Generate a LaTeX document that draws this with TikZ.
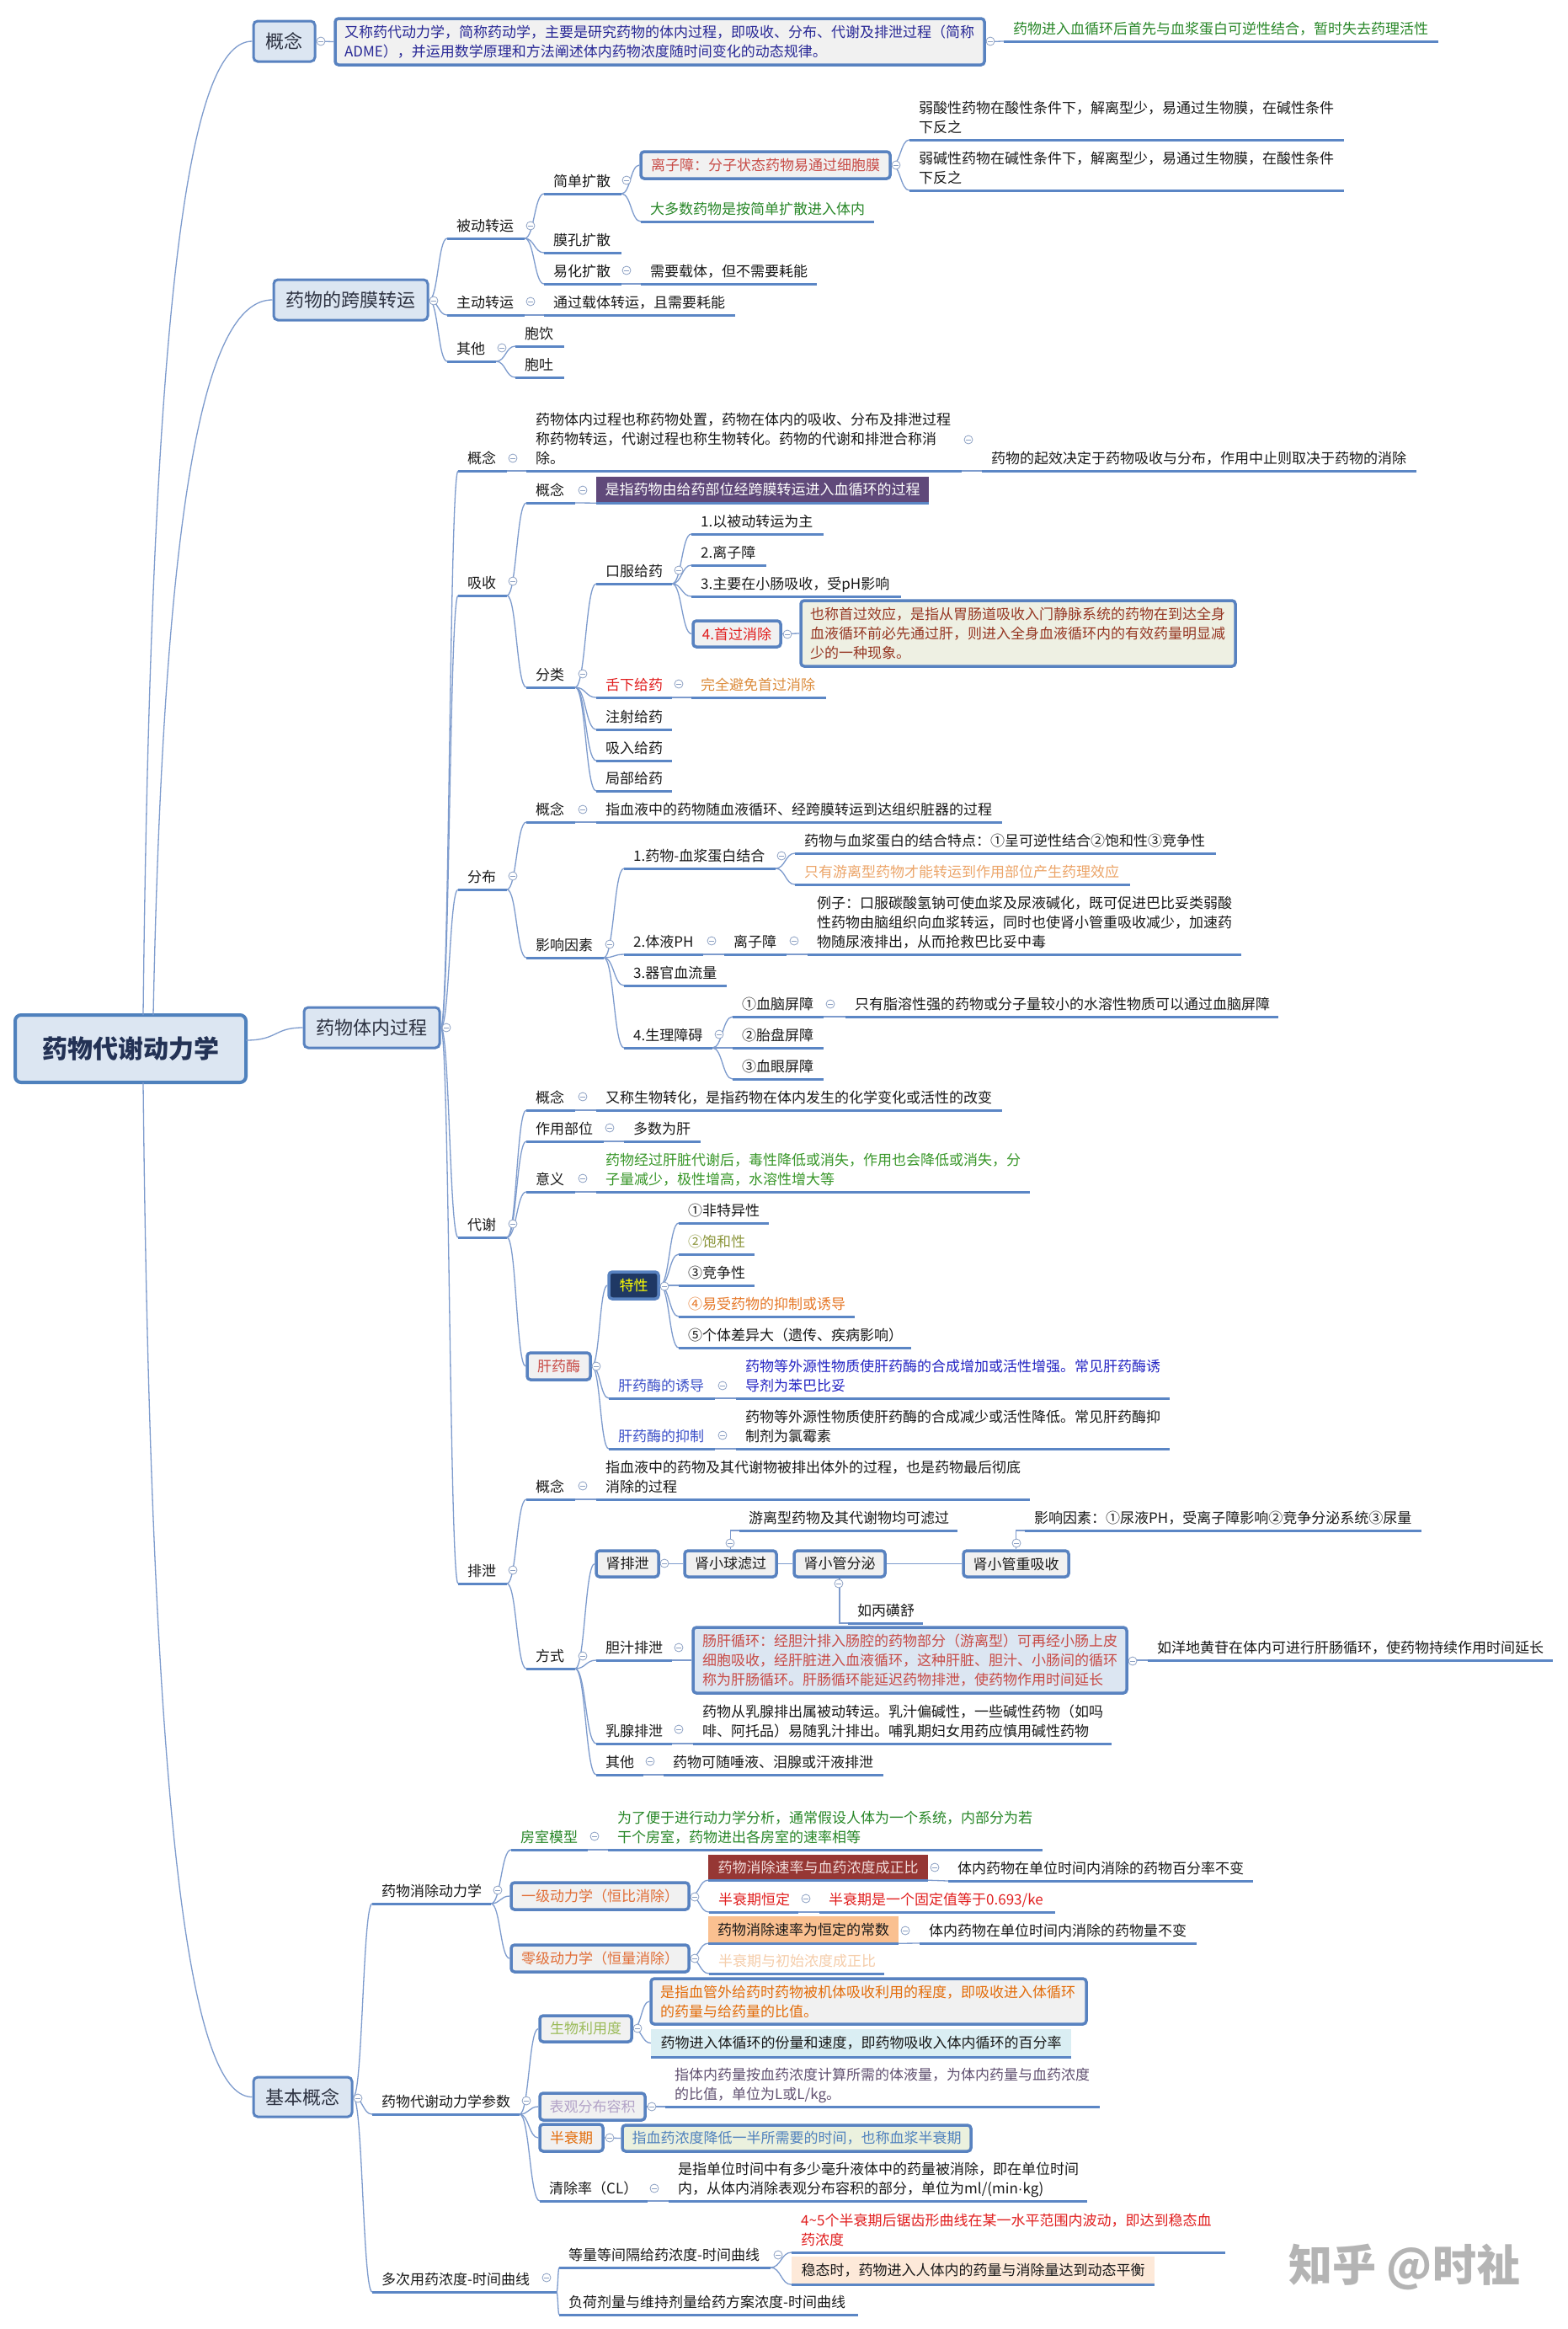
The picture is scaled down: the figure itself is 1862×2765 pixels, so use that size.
\documentclass[tikz,border=0pt]{standalone}
\usepackage{fontspec}
\setmainfont{Noto Sans CJK SC}
\newfontfamily\latf{Liberation Sans}
\usetikzlibrary{calc}
\definecolor{ulc}{RGB}{91,134,197}
\definecolor{cnc}{RGB}{125,155,205}
\definecolor{bdc}{RGB}{88,130,192}
\definecolor{l1fill}{RGB}{220,230,242}
\definecolor{gfill}{RGB}{241,241,241}
\definecolor{txt}{RGB}{25,25,25}
\definecolor{navyt}{RGB}{40,40,150}
\definecolor{grn}{RGB}{40,135,40}
\definecolor{redA}{RGB}{200,75,70}
\definecolor{redB}{RGB}{225,30,30}
\definecolor{brn}{RGB}{150,55,35}
\definecolor{sgfill}{RGB}{238,240,227}
\definecolor{orgA}{RGB}{220,140,60}
\definecolor{orgB}{RGB}{236,165,105}
\definecolor{grn2}{RGB}{55,150,40}
\definecolor{navyf}{RGB}{31,56,100}
\definecolor{yel}{RGB}{255,255,0}
\definecolor{olv}{RGB}{140,150,60}
\definecolor{orgC}{RGB}{230,120,40}
\definecolor{bluA}{RGB}{60,80,200}
\definecolor{bluB}{RGB}{35,35,195}
\definecolor{pur}{RGB}{96,73,122}
\definecolor{orgD}{RGB}{225,110,55}
\definecolor{dred}{RGB}{150,55,52}
\definecolor{pink}{RGB}{242,220,219}
\definecolor{peach}{RGB}{250,192,144}
\definecolor{lorg}{RGB}{245,205,170}
\definecolor{lgrn}{RGB}{155,187,89}
\definecolor{orgE}{RGB}{227,108,9}
\definecolor{lblu}{RGB}{218,238,243}
\definecolor{lav}{RGB}{178,162,199}
\definecolor{gpur}{RGB}{96,80,112}
\definecolor{lgfill}{RGB}{235,241,222}
\definecolor{bgt}{RGB}{79,129,189}
\definecolor{lpeach}{RGB}{253,233,217}
\definecolor{wm}{RGB}{180,180,180}
\definecolor{l1t}{RGB}{45,50,65}
\definecolor{roott}{RGB}{35,50,85}
\definecolor{rootb}{RGB}{79,129,189}
\definecolor{circc}{RGB}{140,160,195}
\newcommand\two[2]{\vbox{\hbox{#1}\hbox{#2}}}
\newcommand\three[3]{\vbox{\hbox{#1}\hbox{#2}\hbox{#3}}}
% leaf: name, x1, x2, underline y, colour, text
\newcommand\leaf[6]{%
  \coordinate (#1L) at (#2,#4);
  \coordinate (#1R) at (#3,#4);
  \draw[ul] (#1L) -- (#1R);
  \node[lt,text=#5] (#1) at ({#2+11},{#4-9}) {#6};
}
% box with centred text: style, name, x1, y1, x2, y2, text
\newcommand\bx[7]{%
  \node[#1, minimum width={#5-#3}, minimum height={#6-#4}] (#2) at ({(#3+#5)/2},{(#4+#6)/2}) {#7};
}
% box with left-aligned text
\newcommand\bxl[7]{%
  \node[#1, minimum width={#5-#3}, minimum height={#6-#4}] (#2) at ({(#3+#5)/2},{(#4+#6)/2}) {};
  \node[#1, draw=none, fill=none, minimum width=0, minimum height=0, inner sep=0, anchor=west] (#2t) at ($(#2.west)+(11,0)$) {#7};
}
\newcommand\conn[2]{\draw[cn] (#1) .. controls ($(#1)!0.5!(#1-|#2)$) and ($(#2-|#1)!0.5!(#2)$) .. (#2);}
\newcommand\cc[3]{\node[circ] (#1) at (#2,#3) {};}
\begin{document}
\begin{tikzpicture}[x=1pt,y=-1pt,
  ul/.style={draw=ulc, line width=3},
  cn/.style={draw=cnc, line width=1.3},
  lt/.style={inner sep=0, font=\fontsize{17}{23}\selectfont, anchor=base west, text=txt},
  circ/.style={circle, draw=circc, fill=white, line width=0.8, inner sep=0, minimum size=10,
    path picture={\draw[circc,line width=0.8] ([xshift=-3]path picture bounding box.center) -- ([xshift=3]path picture bounding box.center);}},
  l1/.style={draw=bdc, fill=l1fill, line width=3, rounded corners=5, inner sep=0, text=l1t, font=\fontsize{22}{26}\selectfont},
  bb/.style={draw=bdc, fill=gfill, line width=3.5, rounded corners=4, inner sep=0, text=txt, font=\fontsize{17}{23}\selectfont},
  fillb/.style={fill=#1, inner sep=0, font=\fontsize{17}{23}\selectfont},
  rootst/.style={draw=rootb, fill=l1fill, line width=4, rounded corners=7, inner sep=0, text=roott, font=\fontsize{30}{34}\selectfont\bfseries}
]
\useasboundingbox (0,0) rectangle (1862,2765);
\fill[white] (0,0) rectangle (1862,2765);

% ---------- root and level 1 ----------
\node[rootst, minimum width=274, minimum height=80] (root) at (155,1245) {药物代谢动力学};
\bx{l1}{gn}{301}{25}{374}{73}{概念}
\bx{l1}{kmzy}{325}{332}{508}{380}{药物的跨膜转运}
\bx{l1}{tnjc}{361}{1196}{522}{1244}{药物体内过程}
\bx{l1}{jbgn}{301}{2466}{418}{2513}{基本概念}
\coordinate (rA) at (170,1205);
\coordinate (rB) at (182,1205);
\coordinate (rC) at (292,1235);
\coordinate (rD) at (170,1285);
\draw[cn] (rA) .. controls (180,300) and (230,49) .. (gn.west);
\draw[cn] (rB) .. controls (195,550) and (250,356) .. (kmzy.west);
\draw[cn] (rC) .. controls (330,1235) and (325,1220) .. (tnjc.west);
\draw[cn] (rD) .. controls (180,2250) and (235,2490) .. (jbgn.west);

% ---------- 概念 ----------
\bxl{bb,text=navyt}{def}{398}{22}{1169}{77}{\two{又称药代动力学，简称药动学，主要是研究药物的体内过程，即吸收、分布、代谢及排泄过程（简称}{ADME），并运用数学原理和方法阐述体内药物浓度随时间变化的动态规律。}}
\leaf{gA}{1192}{1708}{49}{grn}{药物进入血循环后首先与血浆蛋白可逆性结合，暂时失去药理活性}
\conn{gn.east}{def.west}
\conn{def.east}{gAL}

% ---------- 药物的跨膜转运 ----------
\leaf{bd}{531}{623}{283}{txt}{被动转运}
\leaf{zd}{531}{623}{374}{txt}{主动转运}
\leaf{qt}{531}{589}{429}{txt}{其他}
\leaf{zdc}{646}{873}{374}{txt}{通过载体转运，且需要耗能}
\leaf{by}{612}{670}{411}{txt}{胞饮}
\leaf{bt}{612}{670}{448}{txt}{胞吐}
\leaf{jd}{646}{738}{230}{txt}{简单扩散}
\leaf{mk}{646}{738}{300}{txt}{膜孔扩散}
\leaf{yh}{646}{738}{337}{txt}{易化扩散}
\leaf{yhc}{761}{970}{337}{txt}{需要载体，但不需要耗能}
\bx{bb,text=redA}{lzz}{761}{180}{1057}{212}{离子障：分子状态药物易通过细胞膜}
\leaf{dds}{761}{1038}{263}{grn}{大多数药物是按简单扩散进入体内}
\leaf{rs}{1080}{1596}{166}{txt}{\two{弱酸性药物在酸性条件下，解离型少，易通过生物膜，在碱性条件}{下反之}}
\leaf{rj}{1080}{1596}{226}{txt}{\two{弱碱性药物在碱性条件下，解离型少，易通过生物膜，在酸性条件}{下反之}}
\conn{kmzy.east}{bdL} \conn{kmzy.east}{zdL} \conn{kmzy.east}{qtL}
\conn{bdR}{jdL} \conn{bdR}{mkL} \conn{bdR}{yhL}
\conn{zdR}{zdcL} \conn{qtR}{byL} \conn{qtR}{btL}
\conn{jdR}{lzz.west} \conn{jdR}{ddsL}
\conn{yhR}{yhcL}
\conn{lzz.east}{rsL} \conn{lzz.east}{rjL}

% ---------- 药物体内过程 ----------
\leaf{tgn}{544}{602}{559}{txt}{概念}
\leaf{xs}{544}{602}{707}{txt}{吸收}
\leaf{fb}{544}{602}{1056}{txt}{分布}
\leaf{dx}{544}{602}{1469}{txt}{代谢}
\leaf{px}{544}{602}{1880}{txt}{排泄}
\conn{tnjc.east}{tgnL} \conn{tnjc.east}{xsL} \conn{tnjc.east}{fbL} \conn{tnjc.east}{dxL} \conn{tnjc.east}{pxL}
\leaf{tgnc}{625}{1142}{559}{txt}{\three{药物体内过程也称药物处置，药物在体内的吸收、分布及排泄过程}{称药物转运，代谢过程也称生物转化。药物的代谢和排泄合称消}{除。}}
\leaf{tgnd}{1166}{1682}{559}{txt}{药物的起效决定于药物吸收与分布，作用中止则取决于药物的消除}
\conn{tgnR}{tgncL} \conn{tgncR}{tgndL}

% 吸收
\leaf{xsgn}{625}{683}{597}{txt}{概念}
\bx{fillb=pur,text=white}{pbox}{708}{566}{1103}{597}{是指药物由给药部位经跨膜转运进入血循环的过程}
\draw[ul] (pbox.south west) -- (pbox.south east);
\leaf{fl}{625}{683}{816}{txt}{分类}
\leaf{kf}{708}{798}{693}{txt}{口服给药}
\leaf{kA}{821}{978}{634}{txt}{1.以被动转运为主}
\leaf{kB}{821}{910}{671}{txt}{2.离子障}
\leaf{kC}{821}{1070}{708}{txt}{3.主要在小肠吸收，受pH影响}
\bx{bb,text=redB}{kD}{823}{737}{927}{768}{4.首过消除}
\bxl{bb,fill=sgfill,text=brn}{sg}{951}{713}{1467}{791}{\three{也称首过效应，是指从胃肠道吸收入门静脉系统的药物在到达全身}{血液循环前必先通过肝，则进入全身血液循环内的有效药量明显减}{少的一种现象。}}
\leaf{sx}{708}{798}{828}{redB}{舌下给药}
\leaf{sxc}{821}{981}{828}{orgA}{完全避免首过消除}
\leaf{zs}{708}{798}{866}{txt}{注射给药}
\leaf{xr}{708}{798}{903}{txt}{吸入给药}
\leaf{jb}{708}{798}{939}{txt}{局部给药}
\conn{xsR}{xsgnL} \conn{xsR}{flL}
\conn{xsgnR}{pbox.south west}
\conn{flR}{kfL} \conn{flR}{sxL} \conn{flR}{zsL} \conn{flR}{xrL} \conn{flR}{jbL}
\conn{kfR}{kAL} \conn{kfR}{kBL} \conn{kfR}{kCL} \conn{kfR}{kD.west}
\conn{kD.east}{sg.west}
\conn{sxR}{sxcL}

% 分布
\leaf{fgn}{625}{683}{976}{txt}{概念}
\leaf{fgnc}{708}{1190}{976}{txt}{指血液中的药物随血液循环、经跨膜转运到达组织脏器的过程}
\leaf{yx}{625}{717}{1137}{txt}{影响因素}
\leaf{ya}{741}{921}{1031}{txt}{1.药物-血浆蛋白结合}
\leaf{yaa}{944}{1444}{1013}{txt}{药物与血浆蛋白的结合特点：①呈可逆性结合②饱和性③竞争性}
\leaf{yab}{944}{1342}{1050}{orgB}{只有游离型药物才能转运到作用部位产生药理效应}
\leaf{yb}{741}{835}{1133}{txt}{2.体液PH}
\leaf{yba}{860}{934}{1133}{txt}{离子障}
\leaf{ybb}{959}{1474}{1133}{txt}{\three{例子：口服碳酸氢钠可使血浆及尿液碱化，既可促进巴比妥类弱酸}{性药物由脑组织向血浆转运，同时也使肾小管重吸收减少，加速药}{物随尿液排出，从而抢救巴比妥中毒}}
\leaf{yc}{741}{863}{1170}{txt}{3.器官血流量}
\leaf{ydd}{741}{846}{1244}{txt}{4.生理障碍}
\leaf{pa}{870}{978}{1207}{txt}{①血脑屏障}
\leaf{paa}{1004}{1518}{1207}{txt}{只有脂溶性强的药物或分子量较小的水溶性物质可以通过血脑屏障}
\leaf{pb}{870}{978}{1244}{txt}{②胎盘屏障}
\leaf{pc}{870}{978}{1281}{txt}{③血眼屏障}
\conn{fbR}{fgnL} \conn{fbR}{yxL} \conn{fgnR}{fgncL}
\conn{yxR}{yaL} \conn{yxR}{ybL} \conn{yxR}{ycL} \conn{yxR}{yddL}
\conn{yaR}{yaaL} \conn{yaR}{yabL}
\conn{ybR}{ybaL} \conn{ybaR}{ybbL}
\conn{yddR}{paL} \conn{yddR}{pbL} \conn{yddR}{pcL}
\conn{paR}{paaL}

% 代谢
\leaf{dgn}{625}{683}{1318}{txt}{概念}
\leaf{dgnc}{708}{1190}{1318}{txt}{又称生物转化，是指药物在体内发生的化学变化或活性的改变}
\leaf{zb}{625}{717}{1355}{txt}{作用部位}
\leaf{zbc}{741}{832}{1355}{txt}{多数为肝}
\leaf{yy}{625}{683}{1415}{txt}{意义}
\leaf{yyc}{708}{1223}{1415}{grn2}{\two{药物经过肝脏代谢后，毒性降低或消失，作用也会降低或消失，分}{子量减少，极性增高，水溶性增大等}}
\bx{bb,text=redA}{gym}{626}{1606}{701}{1638}{肝药酶}
\bx{bb,fill=navyf,text=yel}{tx}{723}{1510}{782}{1542}{特性}
\leaf{ta}{806}{913}{1452}{txt}{①非特异性}
\leaf{tb}{806}{896}{1489}{olv}{②饱和性}
\leaf{tc}{806}{896}{1526}{txt}{③竞争性}
\leaf{td}{806}{1015}{1563}{orgC}{④易受药物的抑制或诱导}
\leaf{te}{806}{1082}{1600}{txt}{⑤个体差异大（遗传、疾病影响）}
\leaf{yd}{723}{849}{1660}{bluA}{肝药酶的诱导}
\leaf{ydc}{874}{1389}{1660}{bluB}{\two{药物等外源性物质使肝药酶的合成增加或活性增强。常见肝药酶诱}{导剂为苯巴比妥}}
\leaf{yz}{723}{849}{1720}{bluA}{肝药酶的抑制}
\leaf{yzc}{874}{1389}{1720}{txt}{\two{药物等外源性物质使肝药酶的合成减少或活性降低。常见肝药酶抑}{制剂为氯霉素}}
\conn{dxR}{dgnL} \conn{dxR}{zbL} \conn{dxR}{yyL} \conn{dxR}{gym.west}
\conn{dgnR}{dgncL} \conn{zbR}{zbcL} \conn{yyR}{yycL}
\conn{gym.east}{tx.west} \conn{gym.east}{ydL} \conn{gym.east}{yzL}
\conn{tx.east}{taL} \conn{tx.east}{tbL} \conn{tx.east}{tcL} \conn{tx.east}{tdL} \conn{tx.east}{teL}
\conn{ydR}{ydcL} \conn{yzR}{yzcL}

% 排泄
\leaf{pgn}{625}{683}{1780}{txt}{概念}
\leaf{pgnc}{708}{1223}{1780}{txt}{\two{指血液中的药物及其代谢物被排出体外的过程，也是药物最后彻底}{消除的过程}}
\leaf{fs}{625}{683}{1981}{txt}{方式}
\bx{bb}{spx}{708}{1841}{782}{1872}{肾排泄}
\bx{bb}{sqg}{813}{1841}{922}{1872}{肾小球滤过}
\bx{bb}{sgf}{943}{1841}{1051}{1872}{肾小管分泌}
\bx{bb}{scx}{1144}{1841}{1269}{1872}{肾小管重吸收}
\leaf{sqgc}{878}{1137}{1817}{txt}{游离型药物及其代谢物均可滤过}
\leaf{scxc}{1217}{1688}{1817}{txt}{影响因素：①尿液PH，受离子障影响②竞争分泌系统③尿量}
\leaf{sgfc}{1007}{1096}{1927}{txt}{如丙磺舒}
\leaf{dz}{708}{798}{1971}{txt}{胆汁排泄}
\bxl{bb,fill=l1fill,text=redA}{gc}{823}{1932}{1338}{2010}{\three{肠肝循环：经胆汁排入肠腔的药物部分（游离型）可再经小肠上皮}{细胞吸收，经肝脏进入血液循环，这种肝脏、胆汁、小肠间的循环}{称为肝肠循环。肝肠循环能延迟药物排泄，使药物作用时间延长}}
\leaf{gcc}{1363}{1844}{1971}{txt}{如洋地黄苷在体内可进行肝肠循环，使药物持续作用时间延长}
\leaf{rx}{708}{798}{2070}{txt}{乳腺排泄}
\leaf{rxc}{823}{1320}{2070}{txt}{\two{药物从乳腺排出属被动转运。乳汁偏碱性，一些碱性药物（如吗}{啡、阿托品）易随乳汁排出。哺乳期妇女用药应慎用碱性药物}}
\leaf{qtb}{708}{764}{2107}{txt}{其他}
\leaf{qtbc}{788}{1049}{2107}{txt}{药物可随唾液、泪腺或汗液排泄}
\conn{pxR}{pgnL} \conn{pxR}{fsL} \conn{pgnR}{pgncL}
\conn{fsR}{spx.west} \conn{fsR}{dzL} \conn{fsR}{rxL} \conn{fsR}{qtbL}
\draw[cn] (spx.east) -- (sqg.west);
\draw[cn] (sqg.east) -- (sgf.west);
\draw[cn] (sgf.east) -- (scx.west);
\draw[cn] (sqg.north) |- (sqgcL);
\draw[cn] (scx.north) |- (scxcL);
\draw[cn] (sgf.south) |- (sgfcL);
\conn{dzR}{gc.west} \conn{gc.east}{gccL}
\conn{rxR}{rxcL} \conn{qtbR}{qtbcL}

% ---------- 基本概念 ----------
\leaf{xc}{442}{583}{2260}{txt}{药物消除动力学}
\leaf{fsm}{607}{698}{2196}{grn}{房室模型}
\leaf{fsmc}{722}{1238}{2196}{grn}{\two{为了便于进行动力学分析，通常假设人体为一个系统，内部分为若}{干个房室，药物进出各房室的速率相等}}
\bx{bb,text=orgD}{yj}{607}{2235}{818}{2267}{一级动力学（恒比消除）}
\bx{fillb=dred,text=pink}{drb}{841}{2202}{1102}{2232}{药物消除速率与血药浓度成正比}
\draw[ul] (drb.south west) -- (drb.south east);
\leaf{drc}{1126}{1488}{2233}{txt}{体内药物在单位时间内消除的药物百分率不变}
\leaf{bq}{842}{948}{2270}{redB}{半衰期恒定}
\leaf{bqc}{973}{1253}{2270}{redB}{半衰期是一个固定值等于0.693/ke}
\bx{bb,text=orgD}{lj}{607}{2309}{818}{2341}{零级动力学（恒量消除）}
\bx{fillb=peach,text=txt}{pcb}{841}{2275}{1067}{2307}{药物消除速率为恒定的常数}
\draw[ul] (pcb.south west) -- (pcb.south east);
\leaf{pcc}{1092}{1421}{2307}{txt}{体内药物在单位时间内消除的药物量不变}
\leaf{bqb}{842}{1050}{2343}{lorg}{半衰期与初始浓度成正比}
\leaf{cs}{442}{617}{2510}{txt}{药物代谢动力学参数}
\bx{bb,text=lgrn}{swl}{641}{2393}{750}{2424}{生物利用度}
\bxl{bb,text=orgE}{swa}{773}{2349}{1290}{2403}{\two{是指血管外给药时药物被机体吸收利用的程度，即吸收进入体循环}{的药量与给药量的比值。}}
\bx{fillb=lblu,text=txt}{swb}{773}{2409}{1272}{2442}{药物进入体循环的份量和速度，即药物吸收入体内循环的百分率}
\draw[ul] (swb.south west) -- (swb.south east);
\bx{bb,text=lav}{bg}{641}{2485}{766}{2517}{表观分布容积}
\leaf{bgc}{790}{1306}{2501}{gpur}{\two{指体内药量按血药浓度计算所需的体液量，为体内药量与血药浓度}{的比值，单位为L或L/kg。}}
\bx{bb,text=orgE}{bsj}{641}{2522}{716}{2554}{半衰期}
\bx{bb,fill=lgfill,text=bgt}{bsjc}{739}{2523}{1153}{2554}{指血药浓度降低一半所需要的时间，也称血浆半衰期}
\leaf{qcl}{641}{769}{2613}{txt}{清除率（CL）}
\leaf{qclc}{794}{1291}{2613}{txt}{\two{是指单位时间中有多少毫升液体中的药量被消除，即在单位时间}{内，从体内消除表观分布容积的部分，单位为ml/(min{\latf ·}kg)}}
\leaf{dc}{442}{661}{2721}{txt}{多次用药浓度-时间曲线}
\leaf{dl}{664}{915}{2692}{txt}{等量等间隔给药浓度-时间曲线}
\leaf{dla}{940}{1455}{2674}{redB}{\two{4\textasciitilde 5个半衰期后锯齿形曲线在某一水平范围内波动，即达到稳态血}{药浓度}}
\bx{fillb=lpeach,text=txt}{dlb}{940}{2679}{1371}{2712}{稳态时，药物进入人体内的药量与消除量达到动态平衡}
\draw[ul] (dlb.south west) -- (dlb.south east);
\leaf{fh}{664}{1019}{2748}{txt}{负荷剂量与维持剂量给药方案浓度-时间曲线}
\conn{jbgn.east}{xcL} \conn{jbgn.east}{csL} \conn{jbgn.east}{dcL}
\conn{xcR}{fsmL} \conn{xcR}{yj.west} \conn{xcR}{lj.west}
\conn{fsmR}{fsmcL}
\conn{yj.east}{drb.south west} \conn{yj.east}{bqL}
\conn{drb.south east}{drcL} \conn{bqR}{bqcL}
\conn{lj.east}{pcb.south west} \conn{lj.east}{bqbL}
\conn{pcb.south east}{pccL}
\conn{csR}{swl.west} \conn{csR}{bg.west} \conn{csR}{bsj.west} \conn{csR}{qclL}
\conn{swl.east}{swa.west} \conn{swl.east}{swb.west}
\conn{bg.east}{bgcL} \conn{bsj.east}{bsjc.west} \conn{qclR}{qclcL}
\conn{dcR}{dlL} \conn{dcR}{fhL}
\conn{dlR}{dlaL} \conn{dlR}{dlb.south west}

% ---------- collapse markers ----------
\cc{o1}{381}{49} \cc{o2}{1176}{49}
\cc{o3}{515}{357} \cc{o4}{630}{268} \cc{o5}{630}{358} \cc{o6}{596}{413}
\cc{o7}{744}{214} \cc{o8}{744}{321} \cc{o9}{1064}{196}
\cc{o10}{530}{1220} \cc{o11}{609}{544} \cc{o12}{1150}{522}
\cc{o13}{609}{690} \cc{o14}{692}{582} \cc{o15}{692}{800} \cc{o16}{806}{677} \cc{o17}{935}{753} \cc{o18}{806}{812}
\cc{o19}{609}{1040} \cc{o20}{692}{961} \cc{o21}{724}{1121} \cc{o22}{928}{1016} \cc{o23}{845}{1117} \cc{o24}{943}{1117} \cc{o25}{854}{1228} \cc{o26}{986}{1192}
\cc{o27}{609}{1453} \cc{o28}{692}{1302} \cc{o29}{724}{1339} \cc{o30}{692}{1399} \cc{o31}{708}{1622} \cc{o32}{789}{1527} \cc{o33}{858}{1645} \cc{o34}{858}{1704}
\cc{o35}{609}{1864} \cc{o36}{692}{1764} \cc{o37}{692}{1966} \cc{o38}{789}{1856} \cc{o39}{867}{1832} \cc{o40}{1207}{1832} \cc{o41}{996}{1880} \cc{o42}{806}{1956} \cc{o43}{1345}{1972} \cc{o44}{806}{2053} \cc{o45}{772}{2091}
\cc{o46}{425}{2491} \cc{o47}{591}{2244} \cc{o48}{706}{2180} \cc{o49}{825}{2252} \cc{o50}{1110}{2217} \cc{o51}{957}{2254} \cc{o52}{825}{2325} \cc{o53}{1075}{2292}
\cc{o54}{625}{2494} \cc{o55}{757}{2408} \cc{o56}{774}{2501} \cc{o57}{724}{2538} \cc{o58}{777}{2598} \cc{o59}{649}{2704} \cc{o60}{924}{2677}

% ---------- watermark ----------
\node[font=\fontsize{52}{56}\selectfont\bfseries, text=wm, inner sep=0] (wmk) at (1668,2691) {知乎 @时祉};
\end{tikzpicture}
\end{document}
